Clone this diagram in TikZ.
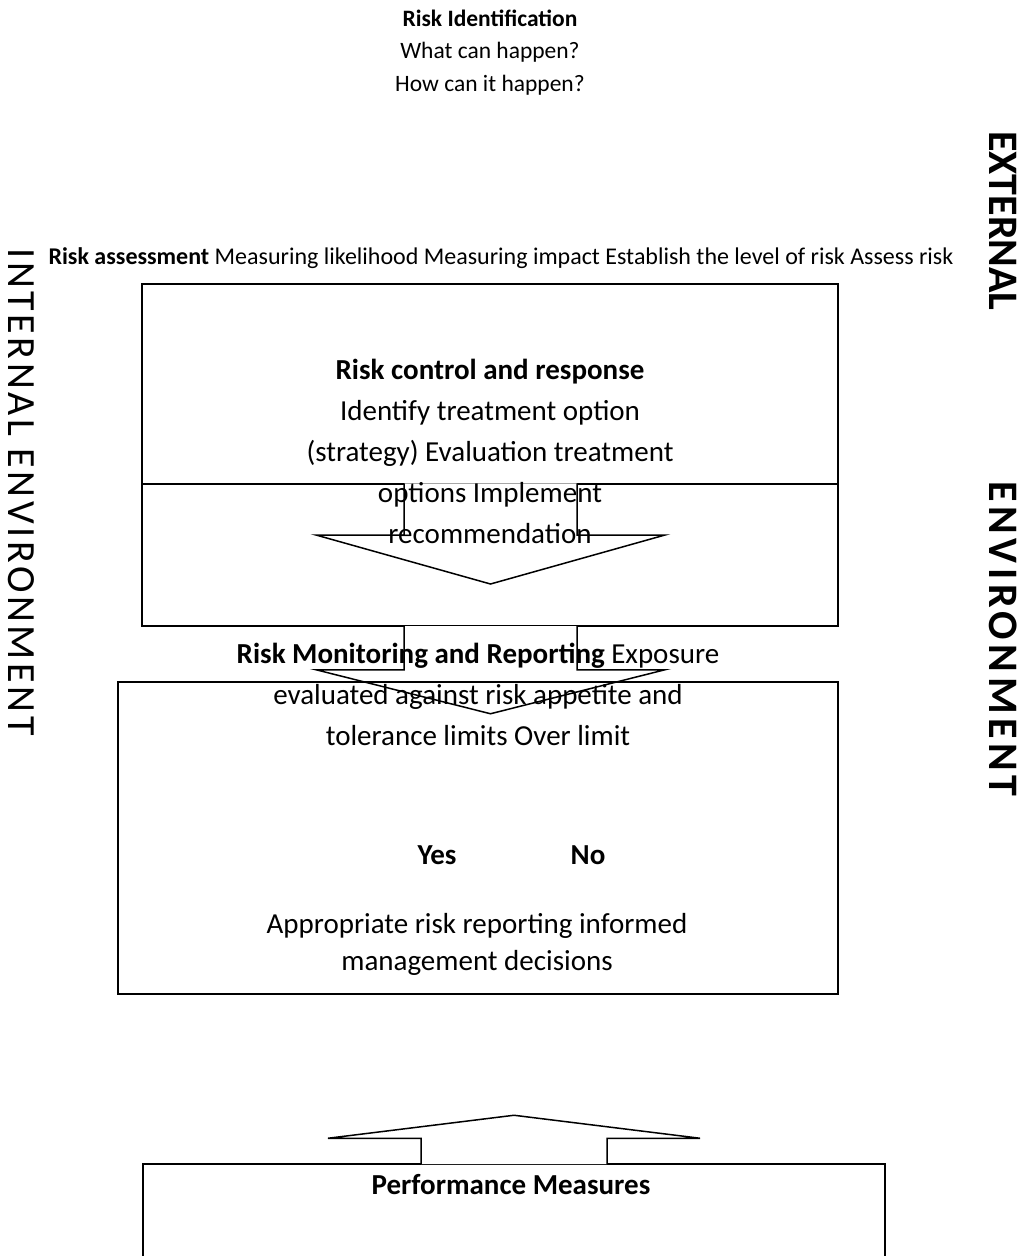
\documentclass[tikz,border=0pt]{standalone}
\usepackage{fontspec}
\setmainfont{Carlito}
\usetikzlibrary{positioning}
\tikzset{
  box/.style={draw=black,line width=1.5pt,inner sep=0pt},
  blockarrow/.style={draw=black,fill=white,line width=1.5pt,line join=miter},
  txt/.style={inner sep=0pt,align=center},
  sidetxt/.style={inner sep=0pt,rotate=-90}
}
\begin{document}
\begin{tikzpicture}[x=1pt,y=-1pt]
	\useasboundingbox (0,0) rectangle (1026,1256);
	% boxes
	\node[box,minimum width=696pt,minimum height=342pt] (control) at (490,455) {};
	\draw[line width=1.5pt] (control.west |- 0,484) -- (control.east |- 0,484);
	\coordinate (a1) at (490.5,484);
	\filldraw[blockarrow] ([xshift=-86.5pt,yshift=0.75pt]a1) -- ++(0,51.75) -- ++(-88,0)
		-- ++(174.5,49) -- ++(174.5,-49) -- ++(-88,0) -- ++(0,-51.75);
	\coordinate (a2) at (control.south);
	\filldraw[blockarrow] ([xshift=-86pt,yshift=0.75pt]a2) -- ++(0,43.75) -- ++(-88,0)
		-- ++(174.5,44) -- ++(174.5,-44) -- ++(-88,0) -- ++(0,-43.75);
	\node[box,minimum width=720pt,minimum height=312pt] (monitor) at (478,838) {};
	\node[box,minimum width=742pt,minimum height=200pt] (perf) at (514,1264) {};
	\coordinate (a3) at (perf.north);
	\filldraw[blockarrow] ([xshift=-93pt,yshift=-0.75pt]a3) -- ++(0,-25.75) -- ++(-93,0)
		-- ++(186,-23) -- ++(186,23) -- ++(-93,0) -- ++(0,25.75);
	% texts
	\node[txt,font=\fontsize{23.5}{32.5}\selectfont] (ident) at (490,52.5)
		{\textbf{Risk Identification}\\What can happen?\\How can it happen?};
	\node[txt,font=\fontsize{24}{24}\selectfont] (assess) at (501,258)
		{\textbf{Risk assessment} Measuring likelihood Measuring impact Establish the level of risk Assess risk};
	\node[txt,font=\fontsize{29}{41.2}\selectfont] (controltxt) at (490,451.5)
		{\textbf{Risk control and response}\\Identify treatment option\\(strategy) Evaluation treatment\\options Implement\\recommendation};
	\node[txt,font=\fontsize{29}{41}\selectfont] (monitortxt) at (478,694)
		{\textbf{Risk Monitoring and Reporting} Exposure\\evaluated against risk appetite and\\tolerance limits Over limit};
	\node[txt,font=\fontsize{29}{29}\selectfont\bfseries] (yes) at (437,855) {Yes};
	\node[txt,font=\fontsize{29}{29}\selectfont\bfseries] (no) at (588,855) {No};
	\node[txt,font=\fontsize{29}{37}\selectfont] (report) at (477,944.5)
		{Appropriate risk reporting informed\\management decisions};
	\node[txt,font=\fontsize{29}{29}\selectfont\bfseries] (perftxt) at (511,1185) {Performance Measures};
	% environments
	\node[sidetxt,font=\fontsize{40}{40}\selectfont\addfontfeatures{LetterSpace=9}] (internal) at (21,492) {INTERNAL ENVIRONMENT};
	\node[sidetxt,font=\fontsize{42}{42}\selectfont\bfseries] (external) at (1003,221) {EXTERNAL};
	\node[sidetxt,font=\fontsize{42}{42}\selectfont\bfseries\addfontfeatures{LetterSpace=11}] (environment) at (1003,639) {ENVIRONMENT};
\end{tikzpicture}
\end{document}
